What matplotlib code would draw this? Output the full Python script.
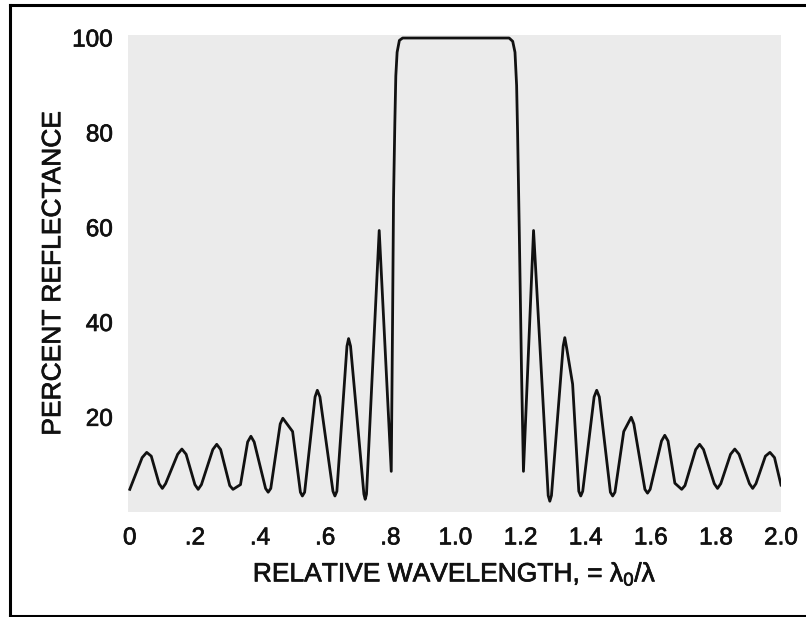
"""
Reflectance of a quarter-wave dielectric stack vs relative wavelength.
Values read off a scanned figure.
"""
import matplotlib
matplotlib.use("Agg")  # headless
import matplotlib.pyplot as plt
import matplotlib.patheffects as pe
from matplotlib.lines import Line2D

plt.rcParams["font.family"] = ["Liberation Sans", "DejaVu Sans"]
plt.rcParams["mathtext.fontset"] = "custom"
plt.rcParams["mathtext.rm"] = "Liberation Sans"
plt.rcParams["mathtext.it"] = "Liberation Sans"

# relative wavelength (lambda0 / lambda) and percent reflectance
wavelength = [
    0.000, 0.038, 0.052, 0.066, 0.090, 0.100, 0.110, 0.147, 0.160, 0.173,
    0.200, 0.210, 0.220, 0.255, 0.267, 0.279, 0.307, 0.317, 0.340, 0.362,
    0.372, 0.382, 0.417, 0.425, 0.433, 0.462, 0.470, 0.500, 0.524, 0.530,
    0.537, 0.569, 0.576, 0.584, 0.624, 0.630, 0.636, 0.667, 0.672, 0.678,
    0.719, 0.723, 0.727, 0.766, 0.803, 0.807, 0.810, 0.814, 0.817, 0.821,
    0.828, 0.838, 1.165, 1.176, 1.183, 1.188, 1.191, 1.196, 1.203, 1.209,
    1.240, 1.285, 1.290, 1.295, 1.331, 1.336, 1.342, 1.360, 1.379, 1.385,
    1.391, 1.426, 1.434, 1.442, 1.476, 1.483, 1.490, 1.517, 1.540, 1.548,
    1.582, 1.590, 1.598, 1.633, 1.643, 1.653, 1.674, 1.695, 1.705, 1.738,
    1.750, 1.762, 1.795, 1.805, 1.815, 1.845, 1.858, 1.871, 1.903, 1.913,
    1.923, 1.952, 1.966, 1.980, 2.000,
]
reflectance = [
    4.8, 11.5, 12.6, 11.8, 6.0, 5.0, 6.0, 12.2, 13.3, 12.2,
    5.8, 4.8, 5.8, 13.2, 14.3, 13.2, 5.6, 4.8, 5.8, 14.8,
    16.0, 14.8, 5.0, 4.2, 5.0, 18.6, 19.8, 17.0, 4.2, 3.4,
    4.2, 24.3, 25.7, 24.3, 4.4, 3.4, 4.4, 35.0, 36.6, 35.0,
    3.8, 2.7, 3.8, 59.4, 8.6, 40.0, 66.0, 82.0, 92.0, 97.0,
    99.5, 100.0, 100.0, 99.3, 97.0, 90.0, 80.0, 60.0, 30.0, 8.6,
    59.4, 3.5, 2.3, 3.5, 35.0, 36.8, 34.5, 27.0, 4.4, 3.4,
    4.4, 24.3, 25.7, 24.3, 4.2, 3.4, 4.2, 17.0, 20.0, 18.6,
    4.8, 4.0, 4.8, 15.0, 16.2, 15.0, 6.1, 4.8, 5.6, 13.2,
    14.3, 13.2, 6.0, 5.0, 6.0, 12.2, 13.3, 12.2, 6.0, 5.0,
    6.0, 11.8, 12.6, 11.5, 5.7,
]

x_ticks = [0.0, 0.2, 0.4, 0.6, 0.8, 1.0, 1.2, 1.4, 1.6, 1.8, 2.0]
x_tick_labels = ["0", ".2", ".4", ".6", ".8", "1.0", "1.2", "1.4", "1.6", "1.8", "2.0"]
y_ticks = [20, 40, 60, 80, 100]


def main() -> None:
    fig = plt.figure(figsize=(8.06, 6.17), dpi=100)
    ax = fig.add_axes([0.159, 0.170, 0.810, 0.773])
    ax.set_facecolor("#ebebeb")

    ax.plot(wavelength, reflectance, color="#111111", lw=2.0,
            solid_joinstyle="round")

    ax.set_xlim(-0.005, 2.0)
    ax.set_ylim(0, 100.6)
    for side in ax.spines.values():
        side.set_visible(False)

    # slightly heavier strokes, the scan prints a medium weight
    heavy = [pe.withStroke(linewidth=0.5, foreground="#111111")]

    ax.set_xticks(x_ticks)
    ax.set_xticklabels(x_tick_labels)
    ax.set_yticks(y_ticks)
    ax.tick_params(length=0, labelsize=17.5, colors="#111111")
    ax.tick_params(axis="x", pad=11)
    ax.tick_params(axis="y", pad=11)
    for lab in ax.get_xticklabels() + ax.get_yticklabels():
        lab.set_path_effects(heavy)

    ax.set_xlabel(r"RELATIVE WAVELENGTH, = $\mathrm{\lambda_0/\lambda}$",
                  fontsize=19, color="#111111", labelpad=8,
                  path_effects=heavy)
    ax.set_ylabel("PERCENT REFLECTANCE", fontsize=19, color="#111111",
                  labelpad=5, path_effects=heavy)

    # scanned frame: left, top and bottom rules only
    fig.add_artist(Line2D([0.013, 0.013], [0.0024, 0.9927], color="black",
                          lw=2.2, transform=fig.transFigure))
    fig.add_artist(Line2D([0.012, 1.0], [0.9927, 0.9927], color="black",
                          lw=2.2, transform=fig.transFigure))
    fig.add_artist(Line2D([0.012, 1.0], [0.0024, 0.0024], color="black",
                          lw=2.2, transform=fig.transFigure))

    fig.savefig("out.png", dpi=100)
    plt.close(fig)


if __name__ == "__main__":
    main()
